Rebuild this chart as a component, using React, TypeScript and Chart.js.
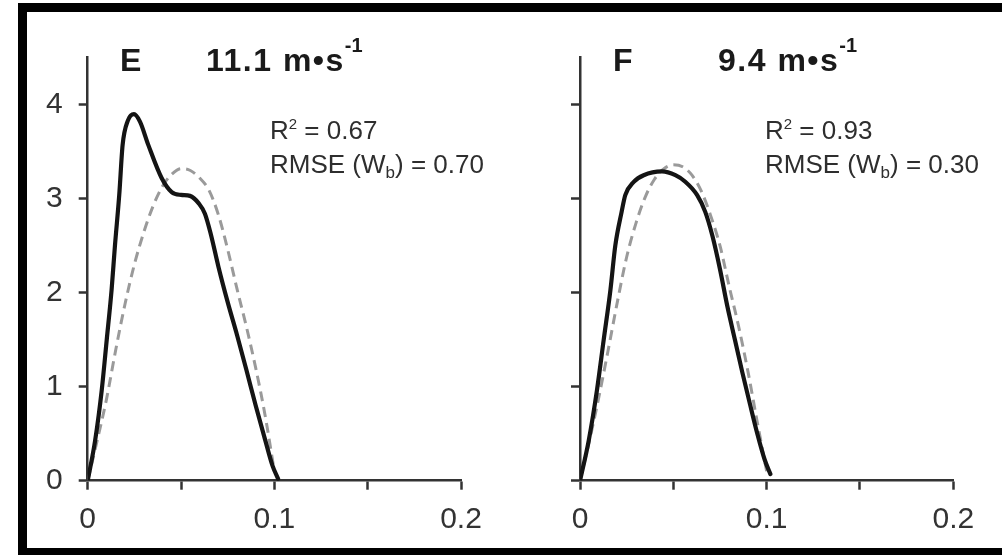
import React, { useEffect, useRef } from 'react';
import { Chart, registerables } from 'chart.js';

Chart.register(...registerables);

// ---- axis ticks ----
const xTickValues = [0, 0.05, 0.1, 0.15, 0.2];
const xTickLabels = ['0', '', '0.1', '', '0.2'];
const yTickValues = [0, 1, 2, 3, 4];
const yTickLabels = ['0', '1', '2', '3', '4'];

// ---- panel E (11.1 m·s-1) ----
const eMeasuredX = [0, 0.004, 0.0075, 0.0102, 0.0128, 0.0146, 0.0169, 0.0187, 0.0215, 0.0248, 0.028, 0.0325, 0.0396, 0.045, 0.05, 0.0548, 0.0595, 0.0628, 0.066, 0.07, 0.075, 0.08, 0.085, 0.09, 0.095, 0.099, 0.102];
const eMeasuredY = [0, 0.43, 0.96, 1.5, 2.03, 2.5, 3.04, 3.57, 3.83, 3.9, 3.82, 3.57, 3.22, 3.07, 3.04, 3.03, 2.95, 2.84, 2.62, 2.28, 1.9, 1.55, 1.18, 0.8, 0.44, 0.16, 0.02];
const eModelX = [0, 0.005, 0.01, 0.015, 0.02, 0.025, 0.03, 0.035, 0.04, 0.045, 0.05, 0.055, 0.06, 0.065, 0.07, 0.075, 0.08, 0.085, 0.09, 0.095, 0.1];
const eModelY = [0, 0.42, 0.86, 1.39, 1.88, 2.3, 2.64, 2.92, 3.13, 3.26, 3.32, 3.3, 3.22, 3.09, 2.83, 2.46, 2.04, 1.64, 1.2, 0.7, 0.1];

// ---- panel F (9.4 m·s-1) ----
const fMeasuredX = [0, 0.0047, 0.0091, 0.0127, 0.0163, 0.0189, 0.0223, 0.0243, 0.0288, 0.0341, 0.0439, 0.0511, 0.0564, 0.0627, 0.0671, 0.071, 0.075, 0.079, 0.083, 0.087, 0.091, 0.095, 0.099, 0.102];
const fMeasuredY = [0, 0.43, 0.965, 1.5, 2.03, 2.5, 2.86, 3.04, 3.18, 3.25, 3.29, 3.25, 3.18, 3.04, 2.86, 2.6, 2.25, 1.85, 1.5, 1.15, 0.82, 0.5, 0.22, 0.07];
const fModelX = [0, 0.005, 0.01, 0.015, 0.02, 0.025, 0.03, 0.035, 0.04, 0.045, 0.05, 0.055, 0.06, 0.065, 0.07, 0.075, 0.08, 0.085, 0.09, 0.095, 0.1];
const fModelY = [0, 0.42, 0.88, 1.38, 1.9, 2.38, 2.74, 3.02, 3.21, 3.32, 3.36, 3.34, 3.25, 3.08, 2.82, 2.5, 2.06, 1.64, 1.16, 0.62, 0.1];

// ---- annotations ----
const panelLetters = ['E', 'F'];
const panelSpeeds = ['11.1', '9.4'];
const panelR2 = ['0.67', '0.93'];
const panelRmse = ['0.70', '0.30'];

const FONT = '"Liberation Sans", Arial, Helvetica, sans-serif';
const AXIS_COLOR = '#333333';

type PanelProps = {
  mx: number[]; my: number[]; fx: number[]; fy: number[];
  showYLabels: boolean; left: number; width: number; yAxisWidth: number; padRight: number;
};

function Panel({ mx, my, fx, fy, showYLabels, left, width, yAxisWidth, padRight }: PanelProps) {
  const ref = useRef<HTMLCanvasElement>(null);
  useEffect(() => {
    if (!ref.current) return;
    const chart = new Chart(ref.current, {
      type: 'line',
      data: {
        datasets: [
          {
            data: mx.map((x, i) => ({ x, y: my[i] })),
            borderColor: '#141414',
            borderWidth: 4.2,
            pointRadius: 0,
            cubicInterpolationMode: 'monotone',
            borderCapStyle: 'round',
            borderJoinStyle: 'round',
            fill: false,
          },
          {
            data: fx.map((x, i) => ({ x, y: fy[i] })),
            borderColor: '#9a9a9a',
            borderWidth: 3,
            borderDash: [10, 6],
            pointRadius: 0,
            cubicInterpolationMode: 'monotone',
            fill: false,
          },
        ],
      },
      options: {
        responsive: false,
        animation: false,
        events: [],
        layout: { padding: { left: 0, right: padRight, top: 57.7, bottom: 0 } },
        plugins: { legend: { display: false }, tooltip: { enabled: false }, title: { display: false } },
        scales: {
          x: {
            type: 'linear',
            min: 0,
            max: 0.2,
            afterBuildTicks: (s: any) => { s.ticks = xTickValues.map((v) => ({ value: v })); },
            afterFit: (s: any) => { s.height = 74.3; },
            ticks: {
              autoSkip: false,
              maxRotation: 0,
              padding: 12,
              color: AXIS_COLOR,
              font: { family: FONT, size: 30 },
              callback: (v: any) => {
                const i = xTickValues.findIndex((t) => Math.abs(t - Number(v)) < 1e-9);
                return i >= 0 ? xTickLabels[i] : '';
              },
            },
            grid: { display: true, drawOnChartArea: false, drawTicks: true, tickLength: 9, tickWidth: 2.5, tickColor: AXIS_COLOR },
            border: { display: true, color: AXIS_COLOR, width: 2.5 },
          },
          y: {
            type: 'linear',
            min: 0,
            max: 4.5,
            afterBuildTicks: (s: any) => { s.ticks = yTickValues.map((v) => ({ value: v })); },
            afterFit: (s: any) => { s.width = yAxisWidth; },
            ticks: {
              padding: 16,
              color: AXIS_COLOR,
              font: { family: FONT, size: 30 },
              callback: (v: any) => {
                if (!showYLabels) return '';
                const i = yTickValues.findIndex((t) => Math.abs(t - Number(v)) < 1e-9);
                return i >= 0 ? yTickLabels[i] : '';
              },
            },
            grid: { display: true, drawOnChartArea: false, drawTicks: true, tickLength: 9, tickWidth: 2.5, tickColor: AXIS_COLOR },
            border: { display: true, color: AXIS_COLOR, width: 2.5 },
          },
        },
      } as any,
    });
    return () => chart.destroy();
  }, []);
  return (
    <canvas
      ref={ref}
      width={width}
      height={555}
      style={{ position: 'absolute', left, top: 0, width, height: 555 }}
    />
  );
}

function Annotations({ idx, letterLeft, speedLeft, statsLeft }: { idx: number; letterLeft: number; speedLeft: number; statsLeft: number }) {
  const titleStyle: React.CSSProperties = {
    position: 'absolute', fontSize: 32, lineHeight: '32px', fontWeight: 'bold', color: '#1a1a1a', whiteSpace: 'nowrap', top: 71 - 0.8465 * 32,
  };
  const statStyle: React.CSSProperties = {
    position: 'absolute', fontSize: 26, lineHeight: '26px', color: '#2e2e2e', whiteSpace: 'nowrap', left: statsLeft,
  };
  return (
    <>
      <div style={{ ...titleStyle, left: letterLeft }}>{panelLetters[idx]}</div>
      <div style={{ ...titleStyle, left: speedLeft, letterSpacing: 1.5 }}>
        {panelSpeeds[idx]} m•s
        <span style={{ fontSize: 20, position: 'relative', top: -19, letterSpacing: 0 }}>-1</span>
      </div>
      <div style={{ ...statStyle, top: 139 - 0.8465 * 26 }}>
        R<span style={{ fontSize: 15, position: 'relative', top: -10 }}>2</span> = {panelR2[idx]}
      </div>
      <div style={{ ...statStyle, top: 173 - 0.8465 * 26 }}>
        RMSE (W<span style={{ fontSize: 17, position: 'relative', top: 5 }}>b</span>) = {panelRmse[idx]}
      </div>
    </>
  );
}

export default function App() {
  return (
    <div style={{ position: 'absolute', left: 0, top: 0, width: 1002, height: 555, overflow: 'hidden', background: '#ffffff', fontFamily: FONT }}>
      <div
        style={{
          position: 'absolute', left: 18, top: 3, width: 1100, height: 552, boxSizing: 'border-box',
          borderLeft: '9px solid #000', borderTop: '9px solid #000', borderBottom: '7px solid #000',
        }}
      />
      <Panel mx={eMeasuredX} my={eMeasuredY} fx={eModelX} fy={eModelY} showYLabels={true} left={0} width={500} yAxisWidth={87.7} padRight={39} />
      <Panel mx={fMeasuredX} my={fMeasuredY} fx={fModelX} fy={fModelY} showYLabels={false} left={500} width={502} yAxisWidth={80} padRight={48.7} />
      <Annotations idx={0} letterLeft={120} speedLeft={206} statsLeft={270} />
      <Annotations idx={1} letterLeft={613} speedLeft={718} statsLeft={765} />
    </div>
  );
}
